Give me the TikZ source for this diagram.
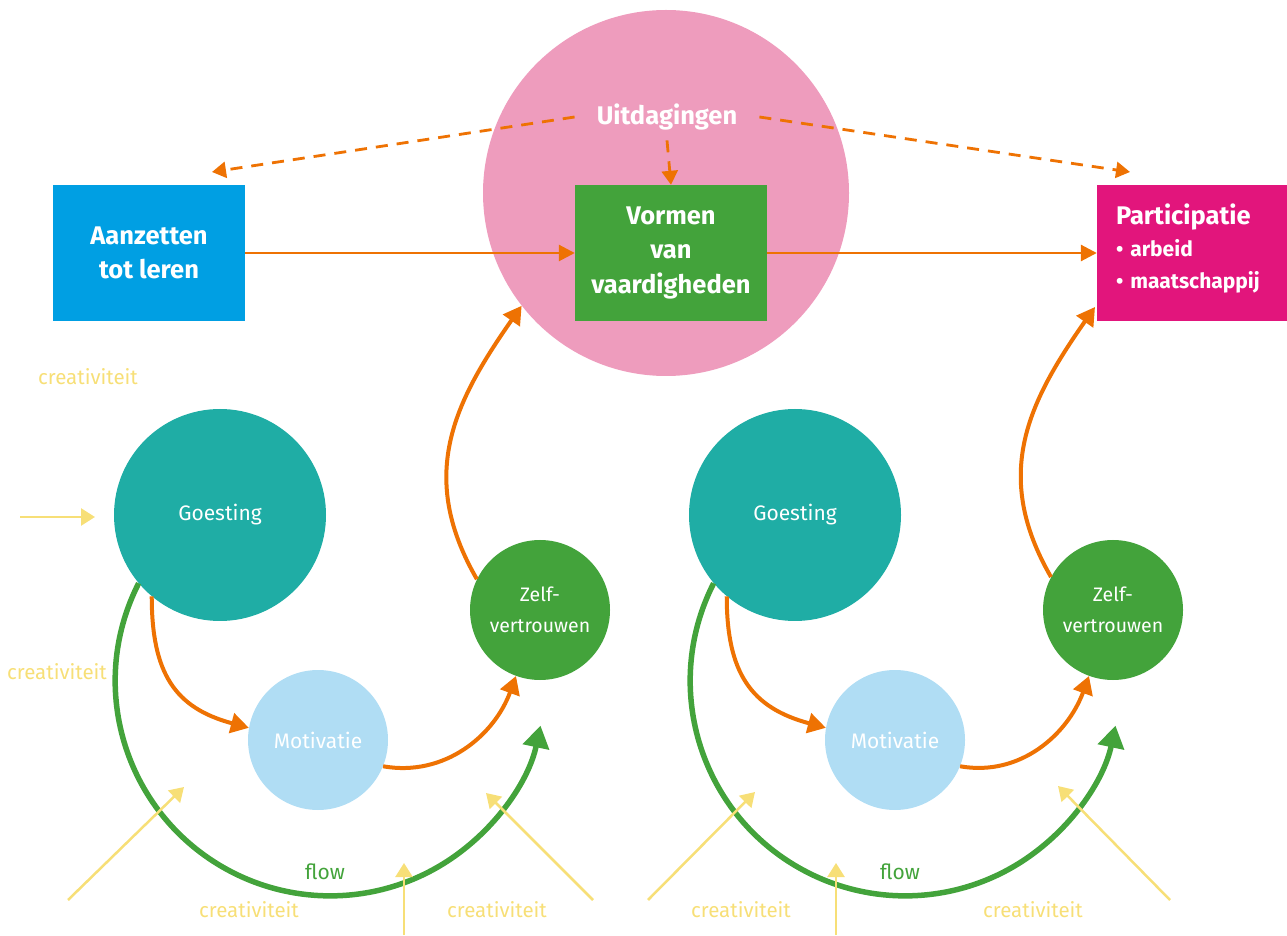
\documentclass[tikz,border=0pt]{standalone}
\usepackage{fontspec}
\setmainfont{Fira Sans}
\usetikzlibrary{arrows.meta}
\definecolor{roze}{HTML}{EE9CBD}
\definecolor{blauw}{HTML}{009FE3}
\definecolor{groen}{HTML}{43A33B}
\definecolor{magenta}{HTML}{E2157C}
\definecolor{teal}{HTML}{1FADA5}
\definecolor{lichtblauw}{HTML}{B0DDF4}
\definecolor{oranje}{HTML}{EE7203}
\definecolor{geel}{HTML}{F7DF77}
\begin{document}
\begin{tikzpicture}[x=1pt,y=1pt,
    vak/.style={rectangle, minimum width=192, minimum height=136, text=white,
      font=\fontsize{25.5}{34}\selectfont\bfseries, align=center},
    bol/.style={circle, text=white, font=\fontsize{21}{31}\selectfont, align=center},
    pijl/.style={draw=oranje, line width=4pt, -{Triangle[length=18pt,width=20pt]}},
    lijn/.style={draw=oranje, line width=2.8pt, -{Triangle[length=16pt,width=16pt]}},
    stippel/.style={draw=oranje, line width=2.8pt, dash pattern=on 12pt off 9pt,
      -{Triangle[length=14pt,width=16pt]}},
    flowlijn/.style={draw=groen, line width=5.5pt, -{Triangle[length=22pt,width=26pt]}},
    geellijn/.style={draw=geel, line width=2.5pt, -{Triangle[length=14pt,width=17pt]}},
    creat/.style={text=geel, font=\fontsize{20.5}{24}\selectfont}]
  \useasboundingbox (0,0) rectangle (1287,935);
  \node[circle, fill=roze, minimum size=366] (uitd) at (666,742) {};
  \node[text=white, font=\fontsize{25.5}{30}\selectfont\bfseries, inner xsep=22, inner ysep=10] (uitdtxt) at (667,818) {Uitdagingen};
  \node[vak, fill=blauw] (aanz) at (149,682) {Aanzetten\\tot leren};
  \node[vak, fill=groen] (vorm) at (671,682) {Vormen\\van\\vaardigheden};
  \node[rectangle, fill=magenta, minimum width=190, minimum height=136, text=white,
    text width=152, align=left, font=\fontsize{21}{32}\selectfont\bfseries] (part) at (1192,682)
    {{\fontsize{25.5}{30}\selectfont Participatie}\\\textbullet\ arbeid\\\textbullet\ maatschappij\rule[-14pt]{0pt}{0pt}};
  \coordinate (pl) at (212,763);
  \coordinate (pr) at (1130,763);
  \draw[stippel] (uitdtxt.west) -- (pl);
  \draw[stippel] (uitdtxt.east) -- (pr);
  \draw[stippel] (uitdtxt.south) -- (vorm.north);
  \draw[lijn] (aanz.east) -- (vorm.west);
  \draw[lijn] (vorm.east) -- (part.west);

  \node[bol, fill=teal, minimum size=212] (goesL) at (220,420) {Goesting};
  \node[bol, fill=lichtblauw, minimum size=140] (motL) at (318,195) {Motivatie};
  \node[bol, fill=groen, minimum size=140, font=\fontsize{19.5}{31}\selectfont] (zelfL) at (540,325) {Zelf-\\vertrouwen};
  \node[bol, fill=teal, minimum size=212] (goesR) at (795,420) {Goesting};
  \node[bol, fill=lichtblauw, minimum size=140] (motR) at (895,195) {Motivatie};
  \node[bol, fill=groen, minimum size=140, font=\fontsize{19.5}{31}\selectfont] (zelfR) at (1113,325) {Zelf-\\vertrouwen};

  \draw[flowlijn] (goesL.220) arc[start angle=153, end angle=348, radius=215];
  \draw[flowlijn] (goesR.220) arc[start angle=153, end angle=348, radius=215];
  \node[text=groen, font=\fontsize{21}{25}\selectfont] (flowL) at (325,63) {flow};
  \node[text=groen, font=\fontsize{21}{25}\selectfont] (flowR) at (900,63) {flow};

  \draw[pijl] (goesL.230) to[out=270, in=165, looseness=1.2] (motL.170);
  \draw[pijl] (motL.-22) to[out=-10, in=250] (zelfL.250);
  \draw[pijl] (zelfL.154) to[out=120, in=235, looseness=1.1] (uitd.218);
  \coordinate (pin) at (1095,628);
  \draw[pijl] (goesR.230) to[out=270, in=165, looseness=1.2] (motR.170);
  \draw[pijl] (motR.-22) to[out=-10, in=250] (zelfR.250);
  \draw[pijl] (zelfR.152) to[out=120, in=235, looseness=1.1] (pin);

  \draw[geellijn] (20,418) -- (95,418);
  \draw[geellijn] (68,35) -- (184,148);
  \draw[geellijn] (404,0) -- (404,72);
  \draw[geellijn] (593,35) -- (486,142);
  \draw[geellijn] (648,35) -- (755,143);
  \draw[geellijn] (836,0) -- (836,72);
  \draw[geellijn] (1170,35) -- (1058,149);
  \node[creat] (c1) at (88,558) {creativiteit};
  \node[creat] (c2) at (57,263) {creativiteit};
  \node[creat] (c3) at (249,25) {creativiteit};
  \node[creat] (c4) at (497,25) {creativiteit};
  \node[creat] (c5) at (741,25) {creativiteit};
  \node[creat] (c6) at (1033,25) {creativiteit};
\end{tikzpicture}
\end{document}
